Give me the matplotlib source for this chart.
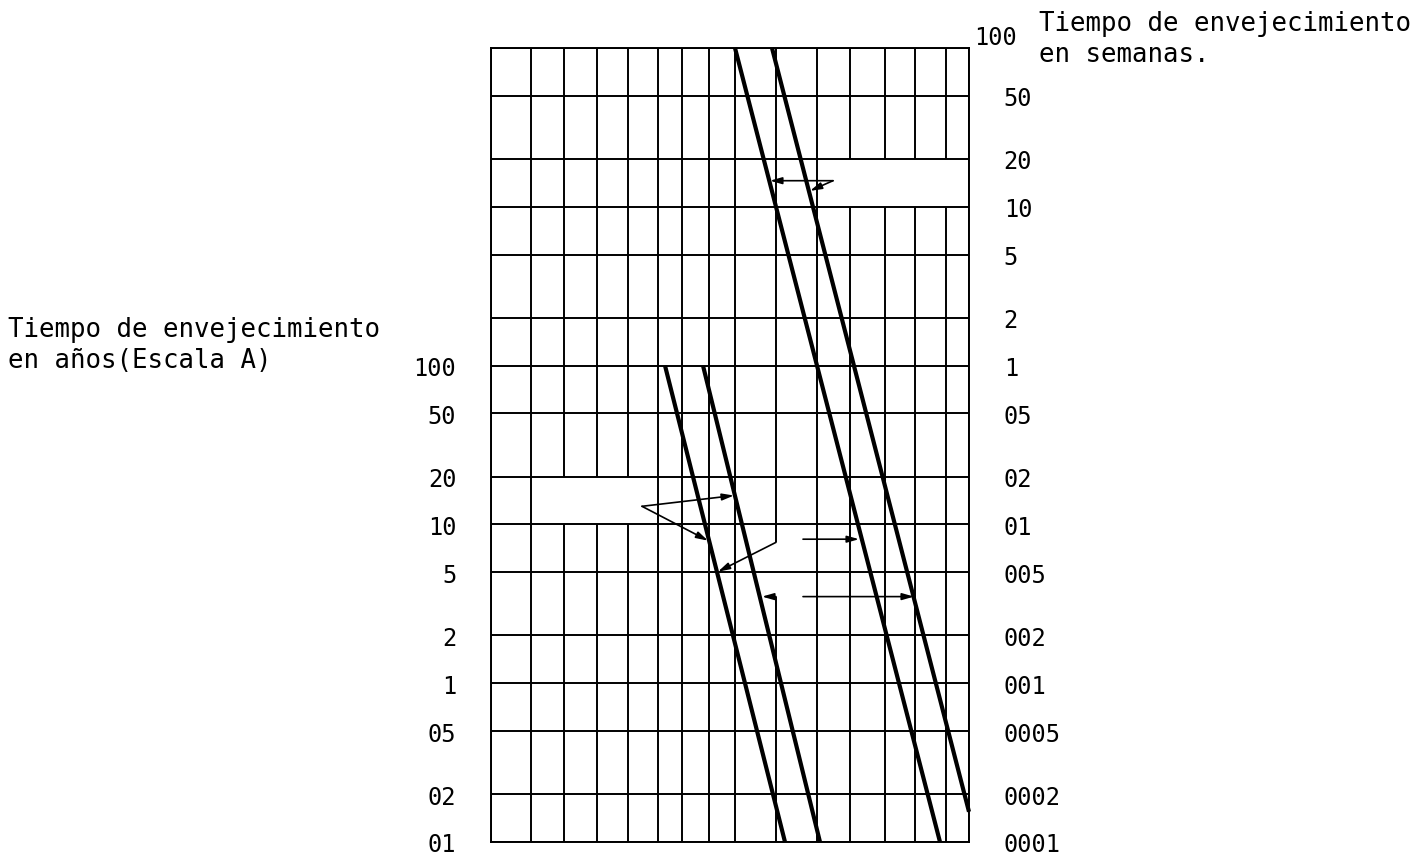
import matplotlib
matplotlib.use("Agg")
import matplotlib.pyplot as plt
from matplotlib.transforms import ScaledTranslation

# ---------------- data ----------------
# positions of the vertical (temperature) grid lines, in chart units
grid_x = [0, 40, 73, 106, 137, 167, 191, 218, 244, 285, 326, 359, 394, 424, 455, 478]

# right scale: ageing time in weeks
weeks_ticks = [100, 50, 20, 10, 5, 2, 1, 0.5, 0.2, 0.1, 0.05, 0.02, 0.01,
               0.005, 0.002, 0.001]
weeks_labels = ["100", "50", "20", "10", "5", "2", "1", "05", "02", "01",
                "005", "002", "001", "0005", "0002", "0001"]

# left scale: ageing time in years (Escala A)
years_ticks = [100, 50, 20, 10, 5, 2, 1, 0.5, 0.2, 0.1]
years_labels = ["100", "50", "20", "10", "5", "2", "1", "05", "02", "01"]
years_per_week_axis = 100  # 100 years on the left sits at 1 week on the right

# heavy lines read against the weeks scale
weeks_lines_x = [[244, 449], [281, 478]]
weeks_lines_w = [[100, 0.001], [100, 0.00155]]

# heavy lines read against the years scale
years_lines_x = [[174, 294], [212, 329]]
years_lines_y = [[100, 0.1], [100, 0.1]]

# interrupted stretches of the vertical grid lines: (line indices, upper, lower) in weeks
grid_gaps = [([11, 12, 13, 14], 20, 10),
             ([2, 3, 4], 0.2, 0.1),
             ([9], 0.0771, 0.0351)]

# pointer arrows: (tail x, tail weeks, head x, head weeks)
arrows = [(342, 14.6, 279, 14.6),
          (342, 14.6, 319, 12.6),
          (151, 0.130, 243, 0.152),
          (151, 0.130, 217, 0.079),
          (285, 0.0771, 227, 0.0504),
          (285, 0.0351, 271, 0.0351),
          (312, 0.0807, 368, 0.0807),
          (312, 0.0351, 423, 0.0351)]

title_right = "Tiempo de envejecimiento\nen semanas."
title_left = "Tiempo de envejecimiento\nen años(Escala A)"

# ---------------- figure ----------------
W, H = 1420, 862
fig = plt.figure(figsize=(W / 100, H / 100), dpi=100)
fig.patch.set_facecolor("white")

left, right, top, bottom = 491, 969, 49, 843
ax = fig.add_axes([left / W, 1 - bottom / H, (right - left) / W, (bottom - top) / H])
ax.set_yscale("log")
ax.set_xlim(grid_x[0], grid_x[-1])
ax.set_ylim(min(weeks_ticks), max(weeks_ticks))

mono = "DejaVu Sans Mono"
grid_lw = 1.4
heavy_lw = 3.0

# horizontal grid lines
for w in weeks_ticks:
    ax.axhline(w, color="black", lw=grid_lw, zorder=2)

# vertical grid lines with interruptions
ymax, ymin = max(weeks_ticks), min(weeks_ticks)
for i, x in enumerate(grid_x):
    cuts = [(lo, hi) for idx, hi, lo in grid_gaps if i in idx]
    cuts.sort(key=lambda c: -c[1])
    cur_top = ymax
    for lo, hi in cuts:
        ax.vlines(x, hi, cur_top, color="black", lw=grid_lw, zorder=2)
        cur_top = lo
    ax.vlines(x, ymin, cur_top, color="black", lw=grid_lw, zorder=2)

# heavy lines
for xs, ws in zip(weeks_lines_x, weeks_lines_w):
    ax.plot(xs, ws, color="black", lw=heavy_lw, solid_capstyle="butt", zorder=4, clip_on=False)
for xs, ys in zip(years_lines_x, years_lines_y):
    ax.plot(xs, [y / years_per_week_axis for y in ys], color="black", lw=heavy_lw,
            solid_capstyle="butt", zorder=4, clip_on=False)

# arrows
for tx, tw, hx, hw in arrows:
    ax.annotate("", xy=(hx, hw), xytext=(tx, tw),
                arrowprops=dict(arrowstyle="-|>,head_length=0.7,head_width=0.2",
                                color="black", lw=1.2, shrinkA=0, shrinkB=0),
                zorder=5)

for s in ax.spines.values():
    s.set_linewidth(grid_lw)
    s.set_color("black")

ax.set_xticks([])
ax.minorticks_off()
ax.yaxis.tick_right()
ax.set_yticks(weeks_ticks)
ax.set_yticklabels(weeks_labels, fontsize=17, family=mono)
ax.tick_params(axis="y", which="both", length=0, pad=25)
ax.yaxis.set_minor_locator(matplotlib.ticker.NullLocator())

# shift the top right "100" label up/left as in the original
lab100 = ax.get_yticklabels()[0]
lab100.set_transform(lab100.get_transform() +
                     ScaledTranslation(-30 / 100, 13 / 100, fig.dpi_scale_trans))

sec = ax.secondary_yaxis("left", functions=(lambda w: w * years_per_week_axis,
                                            lambda y: y / years_per_week_axis))
sec.set_yscale("log")
sec.set_yticks(years_ticks)
sec.set_yticklabels(years_labels, fontsize=17, family=mono)
sec.yaxis.set_minor_locator(matplotlib.ticker.NullLocator())
sec.tick_params(axis="y", which="both", length=0, pad=25)
sec.spines["left"].set_visible(False)

# multi-line text with va="baseline" anchors the last line's baseline
fig.text(1039 / W, 1 - 62 / H, title_right, fontsize=18.5, family=mono,
         ha="left", va="baseline", linespacing=1.27)
fig.text(8 / W, 1 - 368 / H, title_left, fontsize=18.5, family=mono,
         ha="left", va="baseline", linespacing=1.27)

fig.savefig("out.png", dpi=100, facecolor="white")
